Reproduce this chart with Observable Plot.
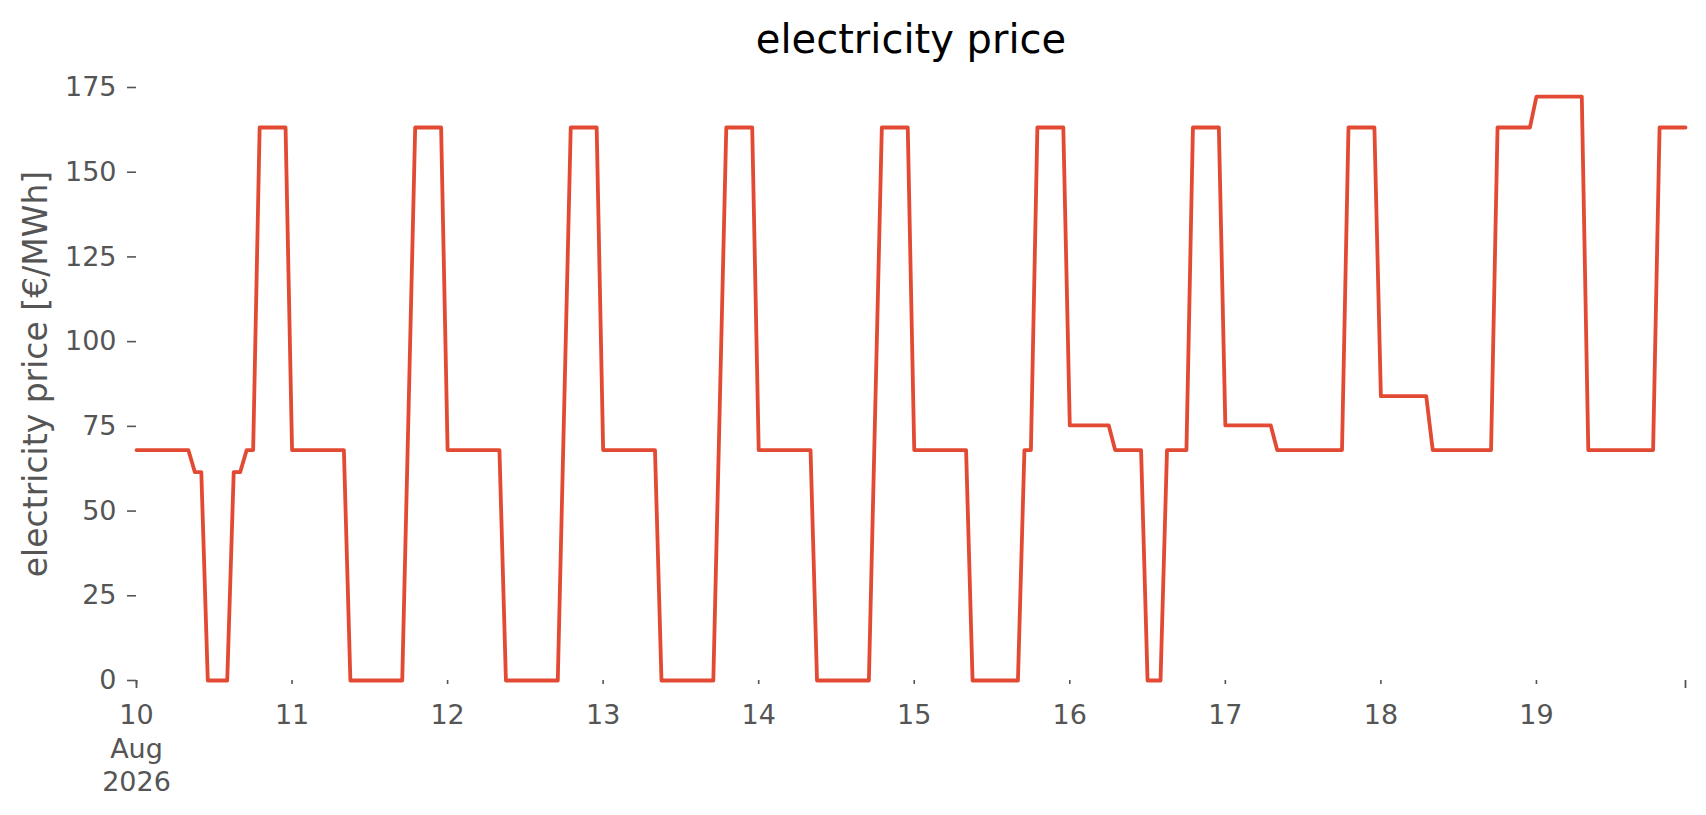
<!DOCTYPE html>
<html>
<head>
<meta charset="utf-8">
<script src="https://cdn.jsdelivr.net/npm/d3@7"></script>
<script src="https://cdn.jsdelivr.net/npm/@observablehq/plot@0.6"></script>
<style>
  html, body { margin: 0; padding: 0; background: #ffffff; }
  #chart svg { display: block; font-family: "DejaVu Sans", sans-serif; }
</style>
</head>
<body>
<div id="chart"></div>
<script>
// Hourly electricity price [€/MWh], one array per day (hour 0 .. 23)
const aug10 = [68, 68, 68, 68, 68, 68, 68, 68, 68, 61.5, 61.5, 0, 0, 0, 0, 61.5, 61.5, 68, 68, 163.2, 163.2, 163.2, 163.2, 163.2];
const aug11 = [68, 68, 68, 68, 68, 68, 68, 68, 68, 0, 0, 0, 0, 0, 0, 0, 0, 0, 81.6, 163.2, 163.2, 163.2, 163.2, 163.2];
const aug12 = [68, 68, 68, 68, 68, 68, 68, 68, 68, 0, 0, 0, 0, 0, 0, 0, 0, 0, 81.6, 163.2, 163.2, 163.2, 163.2, 163.2];
const aug13 = [68, 68, 68, 68, 68, 68, 68, 68, 68, 0, 0, 0, 0, 0, 0, 0, 0, 0, 81.6, 163.2, 163.2, 163.2, 163.2, 163.2];
const aug14 = [68, 68, 68, 68, 68, 68, 68, 68, 68, 0, 0, 0, 0, 0, 0, 0, 0, 0, 81.6, 163.2, 163.2, 163.2, 163.2, 163.2];
const aug15 = [68, 68, 68, 68, 68, 68, 68, 68, 68, 0, 0, 0, 0, 0, 0, 0, 0, 68, 68, 163.2, 163.2, 163.2, 163.2, 163.2];
const aug16 = [75.3, 75.3, 75.3, 75.3, 75.3, 75.3, 75.3, 68, 68, 68, 68, 68, 0, 0, 0, 68, 68, 68, 68, 163.2, 163.2, 163.2, 163.2, 163.2];
const aug17 = [75.3, 75.3, 75.3, 75.3, 75.3, 75.3, 75.3, 75.3, 68, 68, 68, 68, 68, 68, 68, 68, 68, 68, 68, 163.2, 163.2, 163.2, 163.2, 163.2];
const aug18 = [83.9, 83.9, 83.9, 83.9, 83.9, 83.9, 83.9, 83.9, 68, 68, 68, 68, 68, 68, 68, 68, 68, 68, 163.2, 163.2, 163.2, 163.2, 163.2, 163.2];
const aug19 = [172.3, 172.3, 172.3, 172.3, 172.3, 172.3, 172.3, 172.3, 68, 68, 68, 68, 68, 68, 68, 68, 68, 68, 68, 163.2, 163.2, 163.2, 163.2, 163.2];

const dayNumbers = [10, 11, 12, 13, 14, 15, 16, 17, 18, 19];
const dayArrays = [aug10, aug11, aug12, aug13, aug14, aug15, aug16, aug17, aug18, aug19];
const yTicks = [0, 25, 50, 75, 100, 125, 150, 175];
const titleText = "electricity price";
const yLabelText = "electricity price [€/MWh]";

// Build the hourly table
const data = [];
dayArrays.forEach((arr, di) => {
  arr.forEach((v, h) => {
    data.push({date: new Date(Date.UTC(2026, 7, dayNumbers[di], h)), price: v});
  });
});
const start = data[0].date;
const end = data[data.length - 1].date;
const dayTicks = dayNumbers.map(d => new Date(Date.UTC(2026, 7, d)));

const gray = "#555555";
const chart = Plot.plot({
  width: 1706,
  height: 815,
  marginLeft: 136,
  marginRight: 21,
  marginTop: 67,
  marginBottom: 135,
  style: {background: "#ffffff", fontFamily: "DejaVu Sans, sans-serif", overflow: "visible"},
  x: {type: "utc", domain: [start, end]},
  y: {domain: [0, 180.9]},
  marks: [
    Plot.axisY(yTicks, {
      tickSize: 9, tickPadding: 11, fontSize: 27, color: gray, label: null,
      strokeWidth: 1.6
    }),
    Plot.axisX(dayTicks, {
      tickSize: 4, tickPadding: 16, fontSize: 27, color: gray, label: null,
      strokeWidth: 1.6, lineHeight: 1.24,
      tickFormat: (d, i) => d.getUTCDate() === 10 ? "10\nAug\n2026" : String(d.getUTCDate())
    }),
    Plot.axisX([start, end], {
      tickSize: 8, color: gray, label: null, strokeWidth: 1.8,
      tickFormat: () => ""
    }),
    Plot.line(data, {x: "date", y: "price", stroke: "#E24A33", strokeWidth: 3.8}),
    Plot.text([titleText], {frameAnchor: "top", dy: -43, fontSize: 40, fill: "#000000"}),
    Plot.text([yLabelText], {frameAnchor: "left", textAnchor: "middle", dx: -100, rotate: -90, fontSize: 33, fill: gray})
  ]
});
document.getElementById("chart").appendChild(chart);
</script>
</body>
</html>
